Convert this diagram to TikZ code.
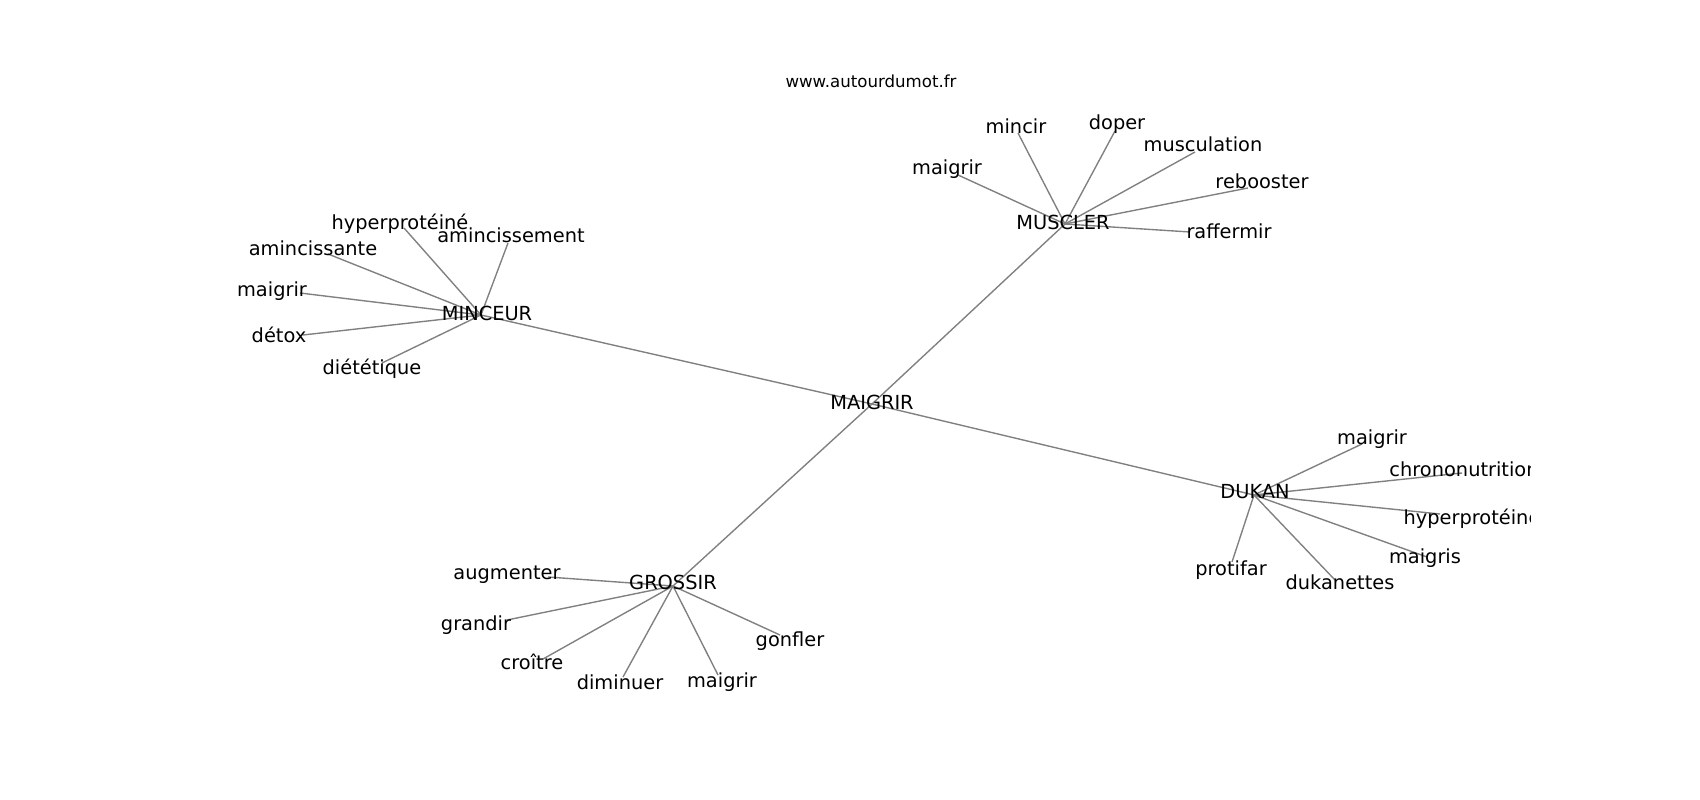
\documentclass[tikz,border=0pt]{standalone}
\usepackage{fontspec}
\setmainfont{DejaVu Sans}
\pgfdeclarelayer{edges}
\pgfsetlayers{edges,main}
\tikzset{x=0.01in, y=-0.01in,
    word/.style={font=\fontsize{14}{17}\selectfont, inner sep=0pt,
        text height=10.6pt, text depth=3.4pt},
    site/.style={font=\fontsize{12}{14}\selectfont, inner sep=0pt, anchor=base},
    link/.style={draw=black!50, line width=1pt},
    }
\begin{document}
\begin{tikzpicture}
\useasboundingbox (0,0) rectangle (1700,800);
\node[site] (site) at (871,88) {www.autourdumot.fr};
\begin{scope}
\clip (212.5,96) rectangle (1530,704);
\coordinate (mai) at (872,404);
\node[word] (mai-t) at (872,405) {MAIGRIR};
% name/parent/point/label/text
\foreach \n/\p/\px/\py/\lx/\ly/\t in {
  min/mai/481/315/487/316/MINCEUR,
  mus/mai/1065/224/1063/225/MUSCLER,
  gro/mai/673/586/673/585/GROSSIR,
  duk/mai/1254/495/1255/494/DUKAN,
  mi1/min/404/228/400/225/hyperprotéiné,
  mi2/min/508/243/511/238/amincissement,
  mi3/min/328/254/313/251/amincissante,
  mi4/min/300/293/272/292/maigrir,
  mi5/min/303/335/279/338/détox,
  mi6/min/382/363/372/370/diététique,
  mu1/mus/958/175/947/170/maigrir,
  mu2/mus/1018/133/1016/129/mincir,
  mu3/mus/1115/131/1117/125/doper,
  mu4/mus/1195/152/1203/147/musculation,
  mu5/mus/1248/188/1262/184/rebooster,
  mu6/mus/1190/232/1229/234/raffermir,
  du1/duk/1362/444/1372/440/maigrir,
  du2/duk/1462/473/1464/472/chrononutrition,
  du3/duk/1440/514/1472/520/hyperprotéiné,
  du4/duk/1427/557/1425/559/maigris,
  du5/duk/1335/580/1340/585/dukanettes,
  du6/duk/1232/562/1231/571/protifar,
  gr1/gro/548/577/507/575/augmenter,
  gr2/gro/507/620/476/626/grandir,
  gr3/gro/543/659/532/665/croître,
  gr4/gro/623/677/620/685/diminuer,
  gr5/gro/718/675/722/683/maigrir,
  gr6/gro/780/635/790/642/gonfler}{
  \coordinate (\n) at (\px,\py);
  \node[word] (\n-t) at (\lx,\ly) {\t};
  \begin{pgfonlayer}{edges}
  \draw[link] (\p) -- (\n);
  \end{pgfonlayer}
}
\end{scope}
\end{tikzpicture}
\end{document}
